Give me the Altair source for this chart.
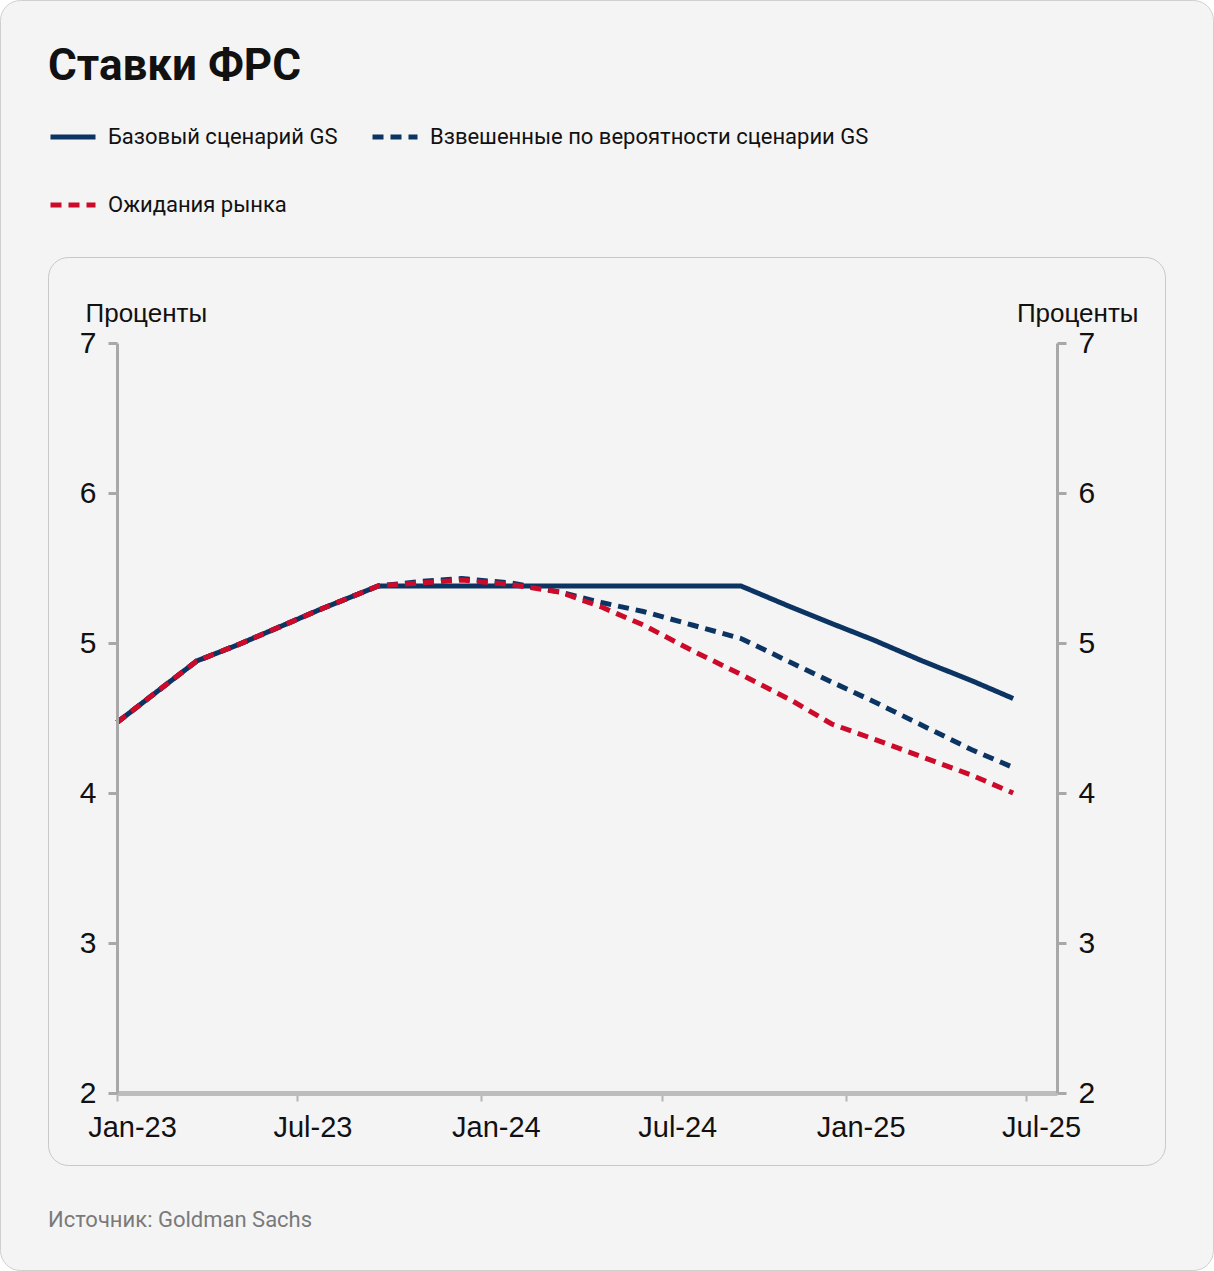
import altair as alt
import pandas as pd

# ---- data ----
dates = ["2023-01-01", "2023-03-22", "2023-05-03", "2023-07-26", "2023-09-20",
         "2023-11-01", "2023-12-13", "2024-01-31", "2024-03-20", "2024-05-01",
         "2024-06-12", "2024-07-31", "2024-09-18", "2024-11-07", "2024-12-18",
         "2025-01-29", "2025-03-19", "2025-05-07", "2025-06-18"]
gs_base = [4.47, 4.88, 4.99, 5.23, 5.38, 5.38, 5.38, 5.38, 5.38, 5.38,
           5.38, 5.38, 5.38, 5.24, 5.13, 5.02, 4.88, 4.75, 4.63]
gs_weighted = [4.47, 4.88, 4.99, 5.23, 5.38, 5.41, 5.43, 5.40, 5.34, 5.27,
               5.21, 5.12, 5.03, 4.87, 4.74, 4.61, 4.45, 4.29, 4.17]
market = [4.47, 4.88, 4.99, 5.23, 5.38, 5.40, 5.42, 5.39, 5.34, 5.24,
          5.12, 4.95, 4.79, 4.62, 4.46, 4.36, 4.24, 4.12, 4.00]

series_names = ["Базовый сценарий GS", "Взвешенные по вероятности сценарии GS", "Ожидания рынка"]
series_colors = ["#0b3463", "#0b3463", "#cc0a2a"]
series_dash = [[1, 0], [11, 7], [11, 7]]

y_ticks = [2, 3, 4, 5, 6, 7]
x_tick_years_months = [(2023, 1), (2023, 7), (2024, 1), (2024, 7), (2025, 1), (2025, 7)]
x_label_format = "%b-%y"

title_text = "Ставки ФРС"
source_text = "Источник: Goldman Sachs"
axis_title = "Проценты"

rows = []
for name, vals in zip(series_names, [gs_base, gs_weighted, market]):
    for d, v in zip(dates, vals):
        rows.append({"date": d, "value": v, "series": name})
df = pd.DataFrame(rows)
one = pd.DataFrame({"k": [0]})

FONT = "Liberation Sans"
W, H = 940, 750
OX, OY = 117, 343  # plot origin on page

x_dom = [alt.DateTime(year=2023, month=1, date=1, utc=True),
         alt.DateTime(year=2025, month=8, date=1, utc=True)]
x_vals = [alt.DateTime(year=y, month=m, date=1, utc=True) for y, m in x_tick_years_months]

x_axis = alt.Axis(values=x_vals, labelExpr=f"utcFormat(datum.value, '{x_label_format}')",
                  title=None, labelFont=FONT, labelFontSize=29, labelColor="#111",
                  labelOffset=15, labelPadding=12, tickSize=8, tickWidth=2,
                  tickColor="#b5b5b5", domainColor="#bdbdbd", domainWidth=5,
                  grid=False, labelFlush=False, zindex=1)
x_enc = alt.X("date:T", scale=alt.Scale(type="utc", domain=x_dom, nice=False), axis=x_axis)

y_scale = alt.Scale(domain=[2, 7], nice=False, zero=False)

def y_axis(orient, tx, talign):
    return alt.Axis(orient=orient, values=y_ticks, title=axis_title, titleAngle=0,
                    titleX=tx, titleY=-30, titleAlign=talign, titleBaseline="middle",
                    titleFont=FONT, titleFontSize=26, titleFontWeight="normal",
                    titleColor="#111", labelFont=FONT, labelFontSize=30,
                    labelColor="#111", labelPadding=12, tickSize=9, tickWidth=3,
                    tickColor="#a8a8a8", domainColor="#a8a8a8", domainWidth=3,
                    grid=False, zindex=1)

legend = alt.Legend(orient="none", legendX=48 - OX, legendY=112 - OY, title=None,
                    direction="horizontal", columns=2, columnPadding=24,
                    rowPadding=32, symbolType="stroke", symbolSize=2025,
                    symbolStrokeWidth=5, labelFont="Roboto", labelFontSize=22,
                    labelColor="#111", labelOffset=10, labelLimit=600, zindex=1)

# decorative card frames
card = alt.Chart(one).mark_rect(fill="#f4f4f4", stroke="#cfcfcf", strokeWidth=1,
                                cornerRadius=20).encode(
    x=alt.value(-OX + 0.5), x2=alt.value(1214 - OX - 0.5),
    y=alt.value(-OY + 0.5), y2=alt.value(1271 - OY - 0.5))
panel = alt.Chart(one).mark_rect(fill="#f4f4f4", stroke="#c8c8c8", strokeWidth=1,
                                 cornerRadius=20).encode(
    x=alt.value(48 - OX + 0.5), x2=alt.value(1166 - OX - 0.5),
    y=alt.value(257 - OY + 0.5), y2=alt.value(1166 - OY - 0.5))

title = alt.Chart(one).mark_text(text=title_text, align="left", baseline="alphabetic",
                                 font="Roboto", fontSize=44, fontWeight="bold",
                                 color="#111").encode(
    x=alt.value(48 - OX), y=alt.value(80 - OY))
source = alt.Chart(one).mark_text(text=source_text, align="left", baseline="alphabetic",
                                  font="Roboto", fontSize=22, color="#7a7a7a").encode(
    x=alt.value(48 - OX), y=alt.value(1227 - OY))

lines = alt.Chart(df).mark_line(strokeWidth=5).encode(
    x=x_enc,
    y=alt.Y("value:Q", scale=y_scale, axis=y_axis("left", 85 - OX, "left")),
    color=alt.Color("series:N", sort=series_names,
                    scale=alt.Scale(domain=series_names, range=series_colors),
                    legend=legend),
    strokeDash=alt.StrokeDash("series:N", sort=series_names,
                              scale=alt.Scale(domain=series_names, range=series_dash),
                              legend=legend),
    order=alt.Order("date:T"),
)

right = alt.Chart(df).mark_line(opacity=0).encode(
    x=x_enc,
    y=alt.Y("value:Q", scale=y_scale, axis=y_axis("right", 1138 - 1057, "right")),
    detail="series:N",
)

chart = alt.layer(card, panel, title, source, lines, right).resolve_axis(
    y="independent"
).properties(
    width=W, height=H,
    autosize=alt.AutoSizeParams(type="none"),
    padding={"left": OX, "top": OY, "right": 1214 - OX - W, "bottom": 1271 - OY - H},
    background="white",
).configure_view(stroke=None)

chart.save("out.html", embed_options={"renderer": "svg", "actions": False})
